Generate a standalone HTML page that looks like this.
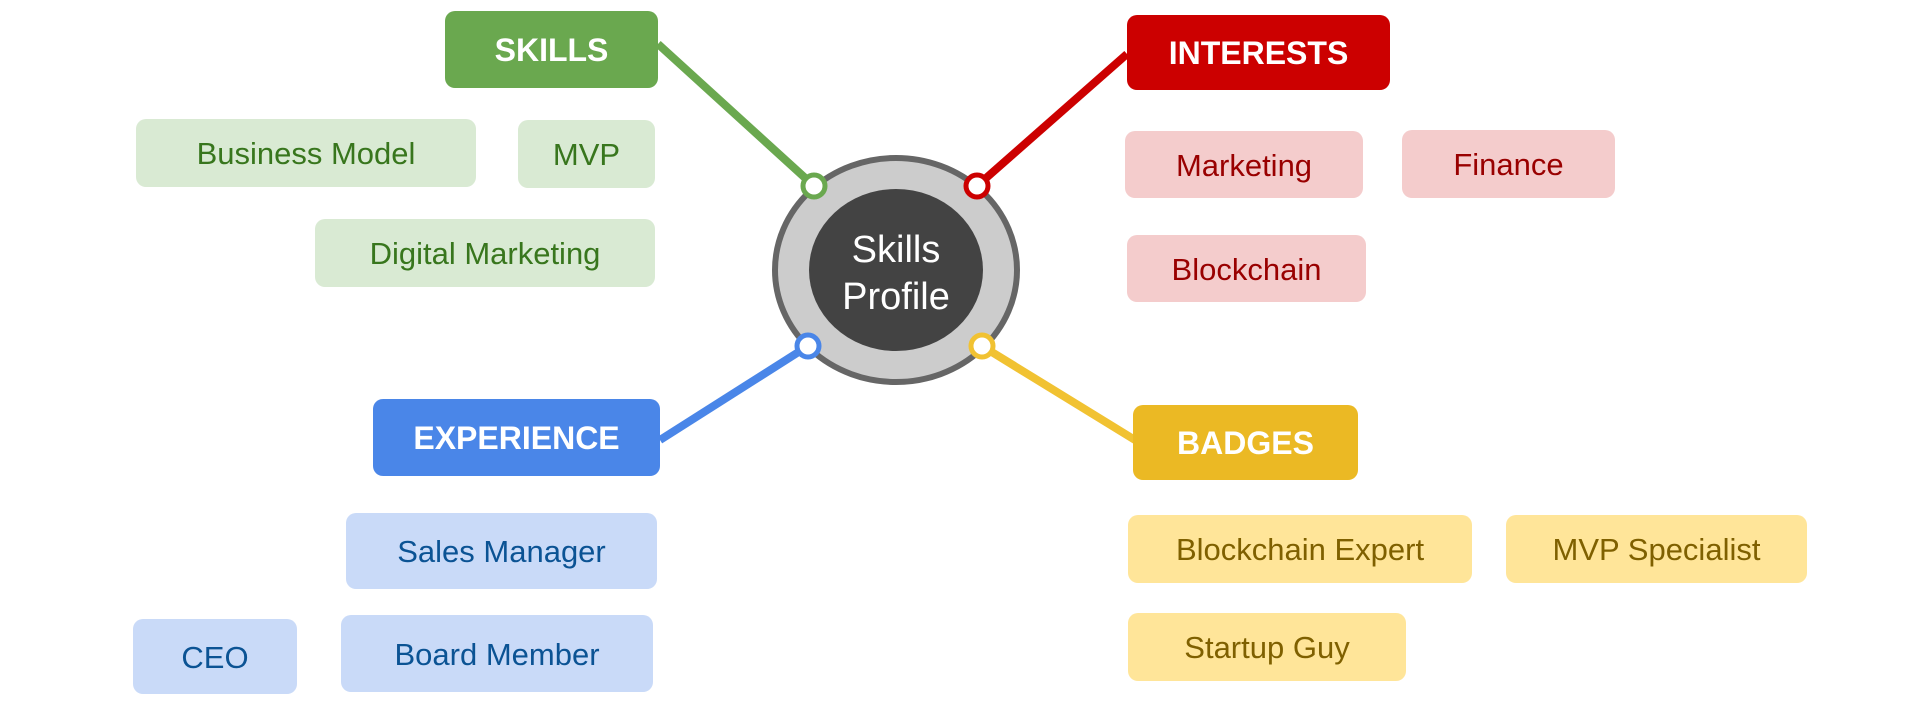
<!DOCTYPE html>
<html><head><meta charset="utf-8"><style>
html,body{margin:0;padding:0;background:#fff;}
svg{display:block;}
text{font-family:"Liberation Sans",Arial,sans-serif;}
</style></head><body>
<svg width="1917" height="702" viewBox="0 0 1917 702" xmlns="http://www.w3.org/2000/svg">
<line x1="658" y1="44" x2="814" y2="186" stroke="#6aa84f" stroke-width="8"/>
<line x1="1127" y1="54" x2="977" y2="186" stroke="#cc0000" stroke-width="8"/>
<line x1="660" y1="440" x2="808" y2="346" stroke="#4a86e8" stroke-width="8"/>
<line x1="1135" y1="440" x2="982" y2="346" stroke="#f1c232" stroke-width="8"/>
<ellipse cx="896" cy="270" rx="121" ry="112" fill="#cccccc" stroke="#666666" stroke-width="6"/>
<ellipse cx="896" cy="270" rx="87" ry="81" fill="#434343"/>
<text x="896" y="262" font-size="38" fill="#fff" text-anchor="middle">Skills</text>
<text x="896" y="309" font-size="38" fill="#fff" text-anchor="middle">Profile</text>
<circle cx="814" cy="186" r="11" fill="#fff" stroke="#6aa84f" stroke-width="5"/>
<circle cx="977" cy="186" r="11" fill="#fff" stroke="#cc0000" stroke-width="5"/>
<circle cx="808" cy="346" r="11" fill="#fff" stroke="#4a86e8" stroke-width="5"/>
<circle cx="982" cy="346" r="11" fill="#fff" stroke="#f1c232" stroke-width="5"/>
<rect x="445" y="11" width="213" height="77" rx="10" fill="#6aa84f"/>
<text x="551.5" y="61" font-size="32" font-weight="bold" fill="#fff" text-anchor="middle">SKILLS</text>
<rect x="1127" y="15" width="263" height="75" rx="10" fill="#cc0000"/>
<text x="1258.5" y="64" font-size="32" font-weight="bold" fill="#fff" text-anchor="middle">INTERESTS</text>
<rect x="373" y="399" width="287" height="77" rx="10" fill="#4a86e8"/>
<text x="516.5" y="449" font-size="32" font-weight="bold" fill="#fff" text-anchor="middle">EXPERIENCE</text>
<rect x="1133" y="405" width="225" height="75" rx="10" fill="#ebb924"/>
<text x="1245.5" y="454" font-size="32" font-weight="bold" fill="#fff" text-anchor="middle">BADGES</text>
<g fill="#d9ead3"><rect x="136" y="119" width="340" height="68" rx="10"/><rect x="518" y="120" width="137" height="68" rx="10"/><rect x="315" y="219" width="340" height="68" rx="10"/></g>
<g fill="#38761d" font-size="31" text-anchor="middle">
<text x="306" y="164">Business Model</text><text x="586.5" y="165">MVP</text><text x="485" y="264">Digital Marketing</text></g>
<g fill="#f4cccc"><rect x="1125" y="131" width="238" height="67" rx="10"/><rect x="1402" y="130" width="213" height="68" rx="10"/><rect x="1127" y="235" width="239" height="67" rx="10"/></g>
<g fill="#990000" font-size="31" text-anchor="middle">
<text x="1244" y="176">Marketing</text><text x="1508.5" y="175">Finance</text><text x="1246.5" y="280">Blockchain</text></g>
<g fill="#c9daf8"><rect x="346" y="513" width="311" height="76" rx="10"/><rect x="133" y="619" width="164" height="75" rx="10"/><rect x="341" y="615" width="312" height="77" rx="10"/></g>
<g fill="#0b5394" font-size="31" text-anchor="middle">
<text x="501.5" y="562">Sales Manager</text><text x="215" y="668">CEO</text><text x="497" y="665">Board Member</text></g>
<g fill="#ffe599"><rect x="1128" y="515" width="344" height="68" rx="10"/><rect x="1506" y="515" width="301" height="68" rx="10"/><rect x="1128" y="613" width="278" height="68" rx="10"/></g>
<g fill="#7f6000" font-size="31" text-anchor="middle">
<text x="1300" y="560">Blockchain Expert</text><text x="1656.5" y="560">MVP Specialist</text><text x="1267" y="658">Startup Guy</text></g>
</svg>
</body></html>
